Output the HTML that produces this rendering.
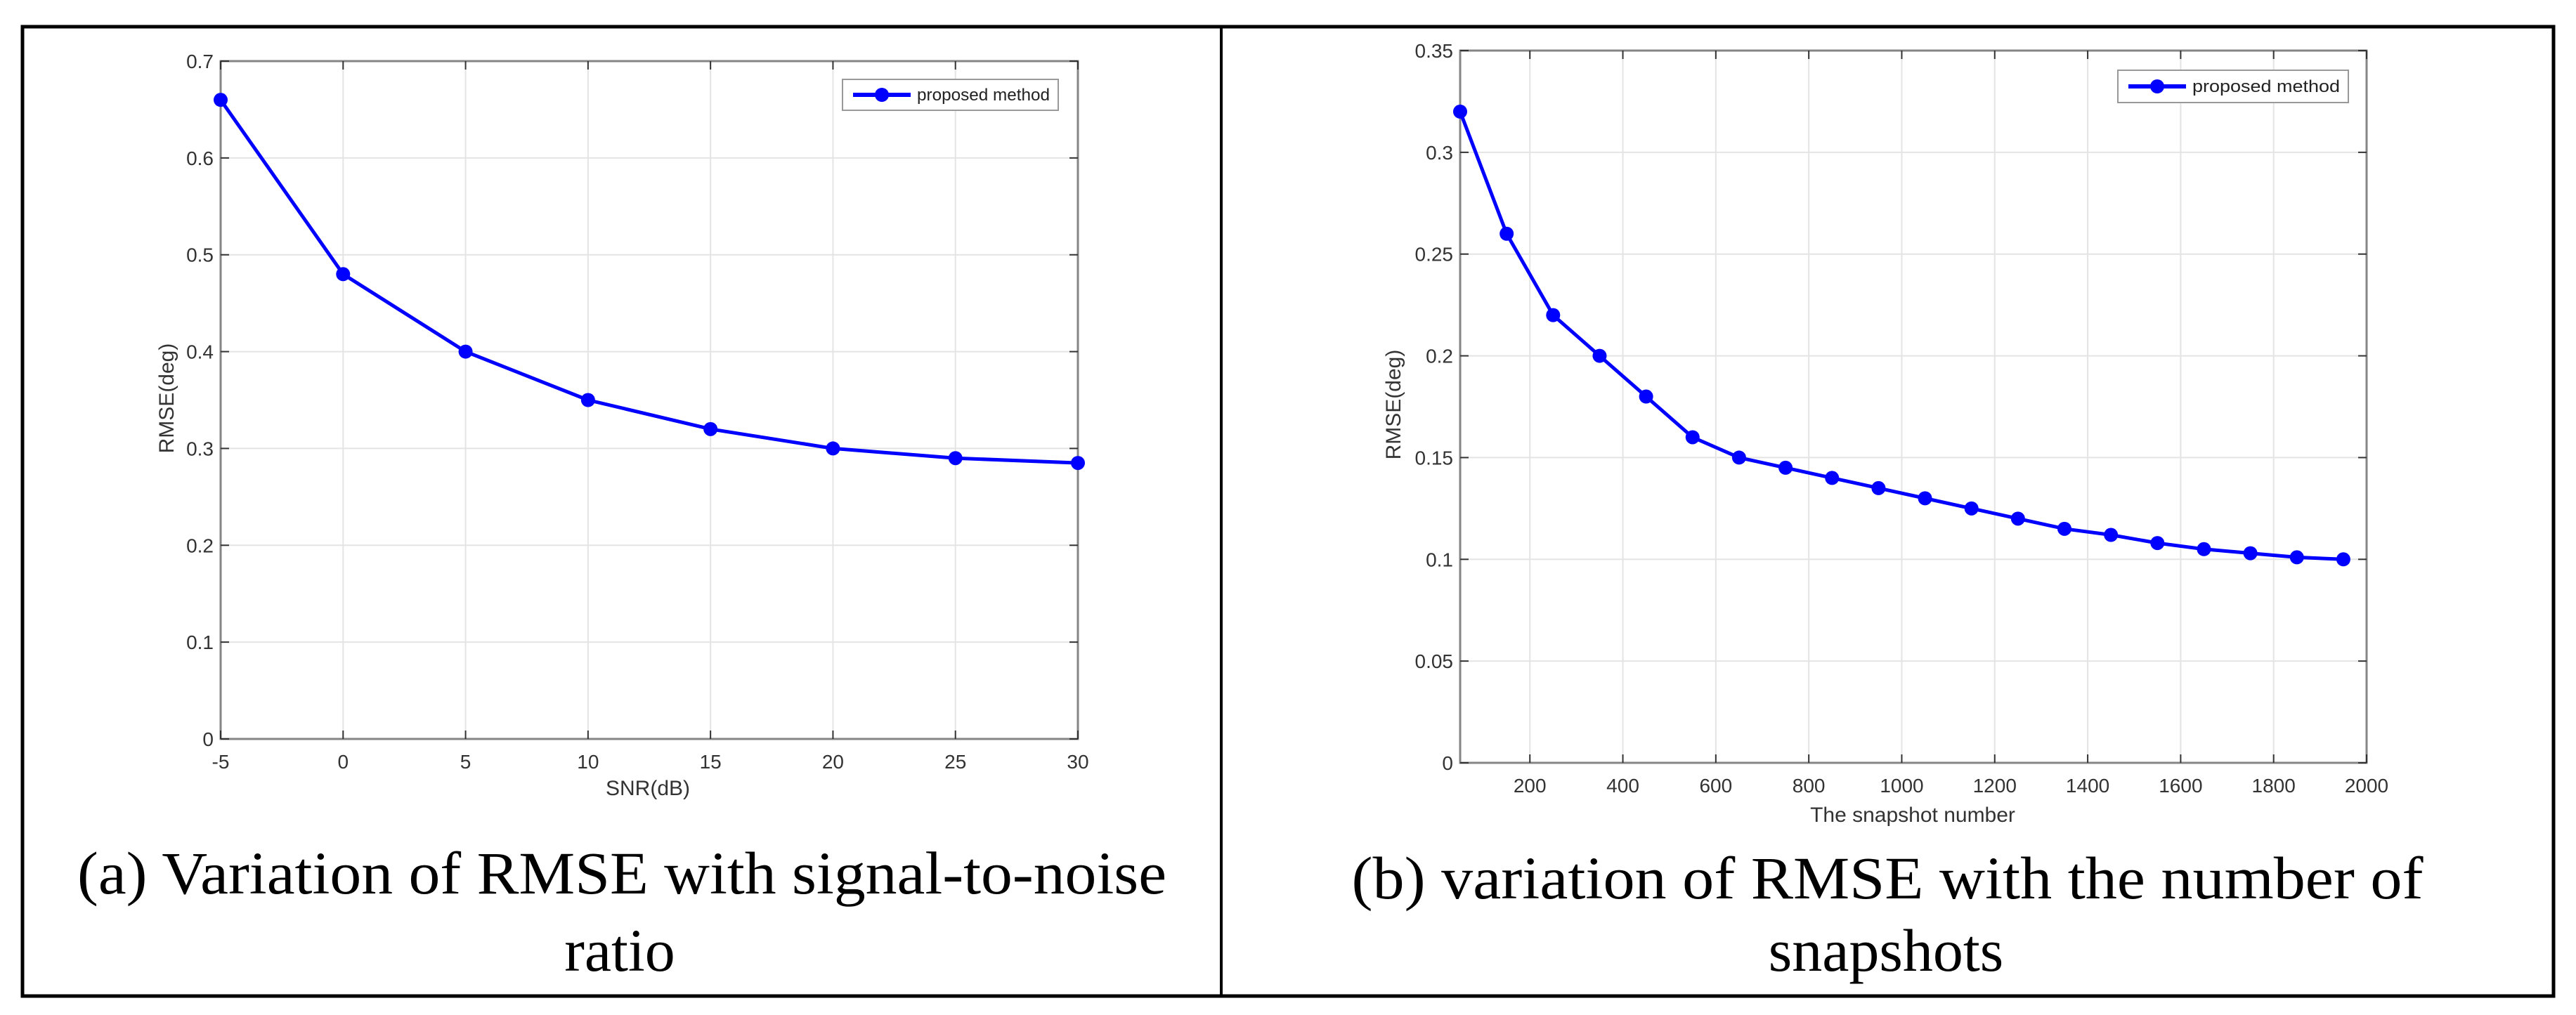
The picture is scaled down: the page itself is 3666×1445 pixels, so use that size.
<!DOCTYPE html>
<html><head><meta charset="utf-8"><style>
html,body{margin:0;padding:0;background:#fff;}
svg{display:block;}
</style></head><body>
<svg id="fig" width="3666" height="1445" viewBox="0 0 3666 1445" xmlns="http://www.w3.org/2000/svg">
  <rect x="32" y="38" width="3602" height="1380" fill="none" stroke="#000" stroke-width="5"/>
  <line x1="1738" y1="38" x2="1738" y2="1418" stroke="#000" stroke-width="4"/>
  <g id="chartA"></g>
  <g id="chartB"></g>
  <text x="885" y="1272" font-family="Liberation Serif, serif" font-size="86" text-anchor="middle" textLength="1550" lengthAdjust="spacingAndGlyphs">(a) Variation of RMSE with signal-to-noise</text>
  <text x="882" y="1382" font-family="Liberation Serif, serif" font-size="86" text-anchor="middle">ratio</text>
  <text x="2686" y="1279" font-family="Liberation Serif, serif" font-size="86" text-anchor="middle" textLength="1525" lengthAdjust="spacingAndGlyphs">(b) variation of RMSE with the number of</text>
  <text x="2684" y="1382" font-family="Liberation Serif, serif" font-size="86" text-anchor="middle">snapshots</text>
</svg>
<script>
const snrValues = [-5, 0, 5, 10, 15, 20, 25, 30];
const snrRmse = [0.66, 0.48, 0.40, 0.35, 0.32, 0.30, 0.29, 0.285];
const snrXTicks = [-5, 0, 5, 10, 15, 20, 25, 30];
const snrYTicks = [0, 0.1, 0.2, 0.3, 0.4, 0.5, 0.6, 0.7];

const snapValues = [50,150,250,350,450,550,650,750,850,950,1050,1150,1250,1350,1450,1550,1650,1750,1850,1950];
const snapRmse = [0.32,0.26,0.22,0.20,0.18,0.16,0.15,0.145,0.14,0.135,0.13,0.125,0.12,0.115,0.112,0.108,0.105,0.103,0.101,0.10];
const snapXTicks = [200,400,600,800,1000,1200,1400,1600,1800,2000];
const snapYTicks = [0,0.05,0.1,0.15,0.2,0.25,0.3,0.35];
const snapYLabels = ['0','0.05','0.1','0.15','0.2','0.25','0.3','0.35'];

const NS = 'http://www.w3.org/2000/svg';
function mk(parent, tag, attrs, text) {
  const e = document.createElementNS(NS, tag);
  for (const k in attrs) e.setAttribute(k, attrs[k]);
  if (text !== undefined) e.textContent = text;
  parent.appendChild(e);
  return e;
}

function drawChart(g, cfg) {
  const sx = v => cfg.L + (v - cfg.xmin) / (cfg.xmax - cfg.xmin) * (cfg.R - cfg.L);
  const sy = v => cfg.B - (v - cfg.ymin) / (cfg.ymax - cfg.ymin) * (cfg.B - cfg.T);
  const F = 'Liberation Sans, sans-serif';
  // grid
  cfg.xTicks.forEach(t => {
    const l = mk(g, 'line', {x1: sx(t), x2: sx(t), y1: cfg.T, y2: cfg.B, stroke: '#e4e4e4', 'stroke-width': 2});
    
    
  });
  cfg.yTicks.forEach(t => {
    const l = mk(g, 'line', {x1: cfg.L, x2: cfg.R, y1: sy(t), y2: sy(t), stroke: '#e4e4e4', 'stroke-width': 2});
    
    
  });
  // axes box
  const box = mk(g, 'rect', {x: cfg.L, y: cfg.T, width: cfg.R - cfg.L, height: cfg.B - cfg.T, fill: 'none', stroke: '#858585', 'stroke-width': 3});
  
  
  // ticks & labels
  cfg.xTicks.forEach((t, i) => {
    mk(g, 'line', {x1: sx(t), x2: sx(t), y1: cfg.B, y2: cfg.B - 12, stroke: '#333', 'stroke-width': 2});
    mk(g, 'line', {x1: sx(t), x2: sx(t), y1: cfg.T, y2: cfg.T + 12, stroke: '#333', 'stroke-width': 2});
    const tx = mk(g, 'text', {x: sx(t), y: cfg.B + 42, 'font-family': F, 'font-size': 28, fill: '#333', 'text-anchor': 'middle'}, String(t));
    
    
  });
  cfg.yTicks.forEach((t, i) => {
    mk(g, 'line', {x1: cfg.L, x2: cfg.L + 12, y1: sy(t), y2: sy(t), stroke: '#333', 'stroke-width': 2});
    mk(g, 'line', {x1: cfg.R, x2: cfg.R - 12, y1: sy(t), y2: sy(t), stroke: '#333', 'stroke-width': 2});
    const tx = mk(g, 'text', {x: cfg.L - 10, y: sy(t) + 10, 'font-family': F, 'font-size': 28, fill: '#333', 'text-anchor': 'end'}, cfg.yLabels[i]);
    
    
  });
  const xl = mk(g, 'text', {x: cfg.xLabelX, y: cfg.xLabelY, 'font-family': F, 'font-size': 30, fill: '#333', 'text-anchor': 'middle'}, cfg.xLabel);
  
  
  const yl = mk(g, 'text', {x: 0, y: 0, 'font-family': F, 'font-size': 30, fill: '#333', 'text-anchor': 'middle', transform: 'translate(' + cfg.yLabelX + ',' + cfg.yLabelY + ') rotate(-90)'}, 'RMSE(deg)');
  
  
  // series
  const pts = cfg.xs.map((x, i) => sx(x) + ',' + sy(cfg.ys[i])).join(' ');
  const pl = mk(g, 'polyline', {points: pts, fill: 'none', stroke: '#0000ff', 'stroke-width': 5, 'stroke-linejoin': 'round'});
  
  
  cfg.xs.forEach((x, i) => {
    const c = mk(g, 'circle', {cx: sx(x), cy: sy(cfg.ys[i]), r: 10, fill: '#0000ff'});
    
    
  });
  // legend
  const lg = mk(g, 'g', {});
  
  
  const lx = cfg.legX, ly = cfg.legY, lw = cfg.legW, lh = cfg.legH;
  mk(lg, 'rect', {x: lx, y: ly, width: lw, height: lh, fill: '#fff', stroke: '#999', 'stroke-width': 2});
  mk(lg, 'line', {x1: lx + 15, x2: lx + 97, y1: ly + lh / 2, y2: ly + lh / 2, stroke: '#0000ff', 'stroke-width': 6});
  mk(lg, 'circle', {cx: lx + 56, cy: ly + lh / 2, r: 10, fill: '#0000ff'});
  const lt = mk(lg, 'text', {x: lx + 106, y: ly + lh / 2 + 8, 'font-family': F, 'font-size': 24, fill: '#222', textLength: lw - 118, lengthAdjust: 'spacingAndGlyphs'}, 'proposed method');
  
  
}

drawChart(document.getElementById('chartA'), {
  L: 314, R: 1534, T: 87, B: 1052, xmin: -5, xmax: 30, ymin: 0, ymax: 0.7,
  xTicks: snrXTicks, yTicks: snrYTicks, yLabels: snrYTicks.map(String),
  xs: snrValues, ys: snrRmse, xLabel: 'SNR(dB)', xLabelX: 922, xLabelY: 1132,
  yLabelX: 247, yLabelY: 567, legX: 1199, legY: 113, legW: 307, legH: 44
});
drawChart(document.getElementById('chartB'), {
  L: 2078, R: 3368, T: 72, B: 1086, xmin: 50, xmax: 2000, ymin: 0, ymax: 0.35,
  xTicks: snapXTicks, yTicks: snapYTicks, yLabels: snapYLabels,
  xs: snapValues, ys: snapRmse, xLabel: 'The snapshot number', xLabelX: 2722, xLabelY: 1170,
  yLabelX: 1993, yLabelY: 576, legX: 3014, legY: 100, legW: 328, legH: 46
});
</script>
</body></html>
